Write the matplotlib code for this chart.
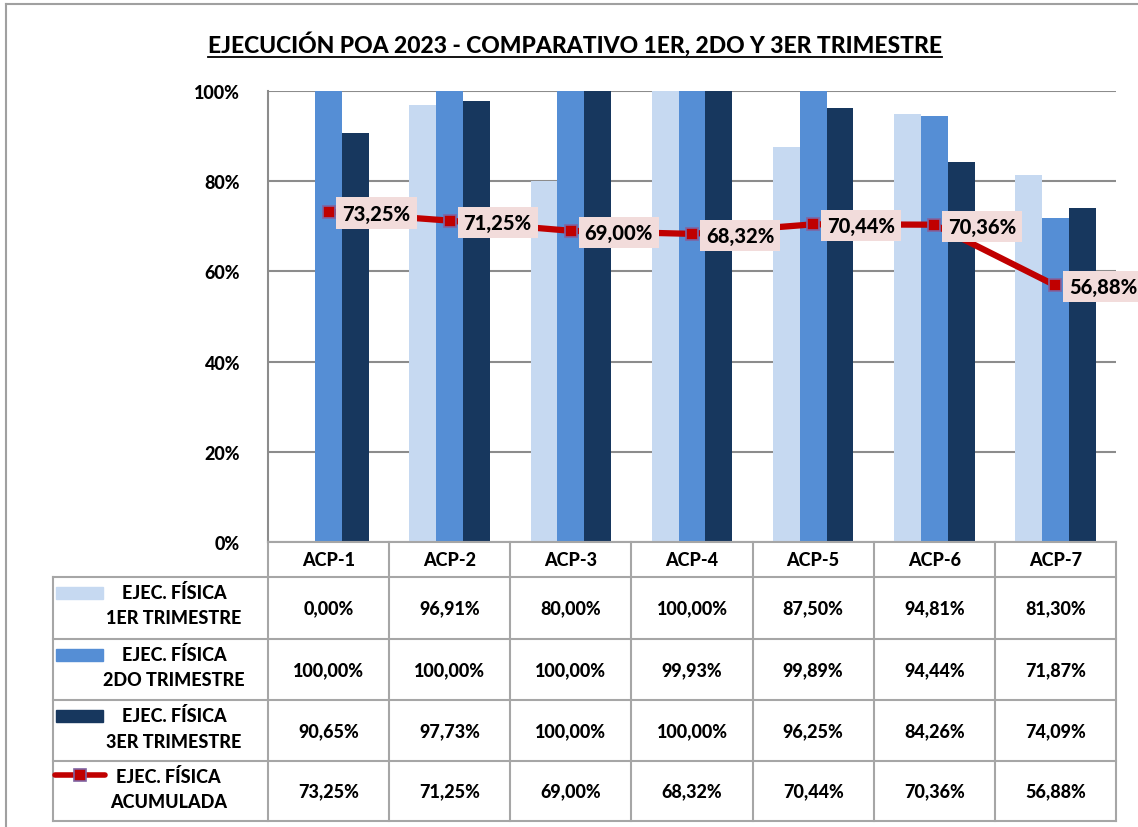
import matplotlib

matplotlib.use("Agg")
import matplotlib.pyplot as plt
from matplotlib.lines import Line2D
from matplotlib.patches import Rectangle

plt.rcParams["font.family"] = ["Lato", "DejaVu Sans"]
plt.rcParams["font.weight"] = "black"
FW = "black"

categories = ["ACP-1", "ACP-2", "ACP-3", "ACP-4", "ACP-5", "ACP-6", "ACP-7"]
trim1 = [0.00, 96.91, 80.00, 100.00, 87.50, 94.81, 81.30]
trim2 = [100.00, 100.00, 100.00, 99.93, 99.89, 94.44, 71.87]
trim3 = [90.65, 97.73, 100.00, 100.00, 96.25, 84.26, 74.09]
acumulada = [73.25, 71.25, 69.00, 68.32, 70.44, 70.36, 56.88]
series_names = [("EJEC. FÍSICA", "1ER TRIMESTRE"),
                ("EJEC. FÍSICA", "2DO TRIMESTRE"),
                ("EJEC. FÍSICA", "3ER TRIMESTRE"),
                ("EJEC. FÍSICA", "ACUMULADA")]
title = "EJECUCIÓN POA 2023 - COMPARATIVO 1ER, 2DO Y 3ER TRIMESTRE"

c_light, c_mid, c_dark = "#C6D9F1", "#558ED5", "#17375E"
c_line = "#C00000"
grid_c = "#8C8C8C"

W, H = 1138, 828
fig = plt.figure(figsize=(W / 100, H / 100), dpi=100)


def px_rect(x0, y0, x1, y1):
    # pixel box (top-left origin) -> figure fraction rect
    return [x0 / W, 1 - y1 / H, (x1 - x0) / W, (y1 - y0) / H]


# outer frame (left + top visible)
fig.add_artist(Line2D([6 / W, 6 / W], [0, 1 - 5 / H], color="#A0A0A0", lw=1.5))
fig.add_artist(Line2D([6 / W, 1], [1 - 5 / H, 1 - 5 / H], color="#A0A0A0", lw=1.5))

ax = fig.add_axes(px_rect(268, 92, 1116, 543))
n = len(categories)
x = list(range(n))
bw = 0.222
ax.bar([i - bw for i in x], [v / 100 for v in trim1], bw, color=c_light, zorder=2)
ax.bar(x, [v / 100 for v in trim2], bw, color=c_mid, zorder=2)
ax.bar([i + bw for i in x], [v / 100 for v in trim3], bw, color=c_dark, zorder=2)

acc = [v / 100 for v in acumulada]
ax.plot(x, acc, color=c_line, lw=4.5, zorder=4, solid_capstyle="round",
        marker="s", markersize=9, markerfacecolor=c_line,
        markeredgecolor="#8064A2", markeredgewidth=1.2)
for xi, yi, v in zip(x, acc, acumulada):
    ax.annotate(f"{v:.2f}%".replace(".", ","), (xi, yi), textcoords="offset points",
                xytext=(10, -1), ha="left", va="center", fontsize=14.5,
                fontweight=FW, zorder=5,
                bbox=dict(boxstyle="square,pad=0.3", fc="#F2DCDB", ec="none"))

ax.set_xlim(-0.5, n - 0.5)
ax.set_ylim(0, 1)
ax.set_yticks([0, 0.2, 0.4, 0.6, 0.8, 1.0])
ax.set_yticklabels(["0%", "20%", "40%", "60%", "80%", "100%"], fontsize=13,
                   fontweight=FW)
ax.tick_params(axis="y", length=0, pad=20)
ax.set_xticks([])
ax.yaxis.grid(True, color=grid_c, lw=1.5, zorder=1)
ax.set_axisbelow(True)
for s in ["top", "right", "bottom"]:
    ax.spines[s].set_visible(False)
ax.spines["left"].set_color(grid_c)
ax.spines["left"].set_linewidth(1.5)

# data table
tax = fig.add_axes(px_rect(53, 543, 1116, 823))
unit = (1116 - 268) / n
x_left = -0.5 - (268 - 53) / unit
tax.set_xlim(x_left, n - 0.5)
tax.set_ylim(823, 543)
tax.axis("off")
rows = [543, 578, 640, 701, 762, 822]
lc = "#A6A6A6"
lk = dict(color=lc, lw=1.5, clip_on=False)
tax.plot([-0.5, n - 0.5], [rows[0], rows[0]], **lk)
for r in rows[1:]:
    tax.plot([x_left, n - 0.5], [r, r], **lk)
tax.plot([x_left, x_left], [rows[1], rows[-1]], **lk)
for i in range(n + 1):
    tax.plot([i - 0.5, i - 0.5], [rows[0], rows[-1]], **lk)

for i, c in enumerate(categories):
    tax.text(i, (rows[0] + rows[1]) / 2, c, ha="center", va="center",
             fontsize=13, fontweight=FW)

table_vals = [trim1, trim2, trim3, acumulada]
for r, vals in enumerate(table_vals):
    yc = (rows[r + 1] + rows[r + 2]) / 2
    for i, v in enumerate(vals):
        tax.text(i, yc, f"{v:.2f}%".replace(".", ","), ha="center", va="center",
                 fontsize=13, fontweight=FW)

# legend keys inside the table
lx0 = x_left + 3 / unit
lx1 = x_left + 50 / unit
for r, col in enumerate([c_light, c_mid, c_dark]):
    top = rows[r + 1] + 10
    tax.add_patch(Rectangle((lx0, top), lx1 - lx0, 12, color=col, clip_on=False))
ly = rows[4] + 14
tax.plot([x_left + 2 / unit, x_left + 52 / unit], [ly, ly], color=c_line, lw=4,
         solid_capstyle="round", clip_on=False)
tax.plot([x_left + 27 / unit], [ly], marker="s", markersize=8, color=c_line,
         markeredgecolor="#8064A2", markeredgewidth=1.2, clip_on=False)
for r, (l1, l2) in enumerate(series_names):
    top = rows[r + 1]
    if r < 3:
        xc = x_left + 121 / unit
        tax.text(xc, top + 15, l1, ha="center", va="center", fontsize=13,
                 fontweight=FW)
        tax.text(xc, top + 41, l2, ha="center", va="center", fontsize=13,
                 fontweight=FW)
    else:
        tax.text(x_left + 63 / unit, top + 15, l1, ha="left", va="center",
                 fontsize=13, fontweight=FW)
        tax.text(x_left + 57 / unit, top + 41, l2, ha="left", va="center",
                 fontsize=13, fontweight=FW)

# title with underline
t = fig.text(575 / W, 1 - 44 / H, title, ha="center", va="center", fontsize=16.5,
             fontweight=FW)
fig.canvas.draw()
bb = t.get_window_extent()
uy = bb.y0 - 2
fig.add_artist(Line2D([bb.x0 / W, bb.x1 / W], [uy / H, uy / H], color="black", lw=1.3))

fig.savefig("out.png", dpi=100)
